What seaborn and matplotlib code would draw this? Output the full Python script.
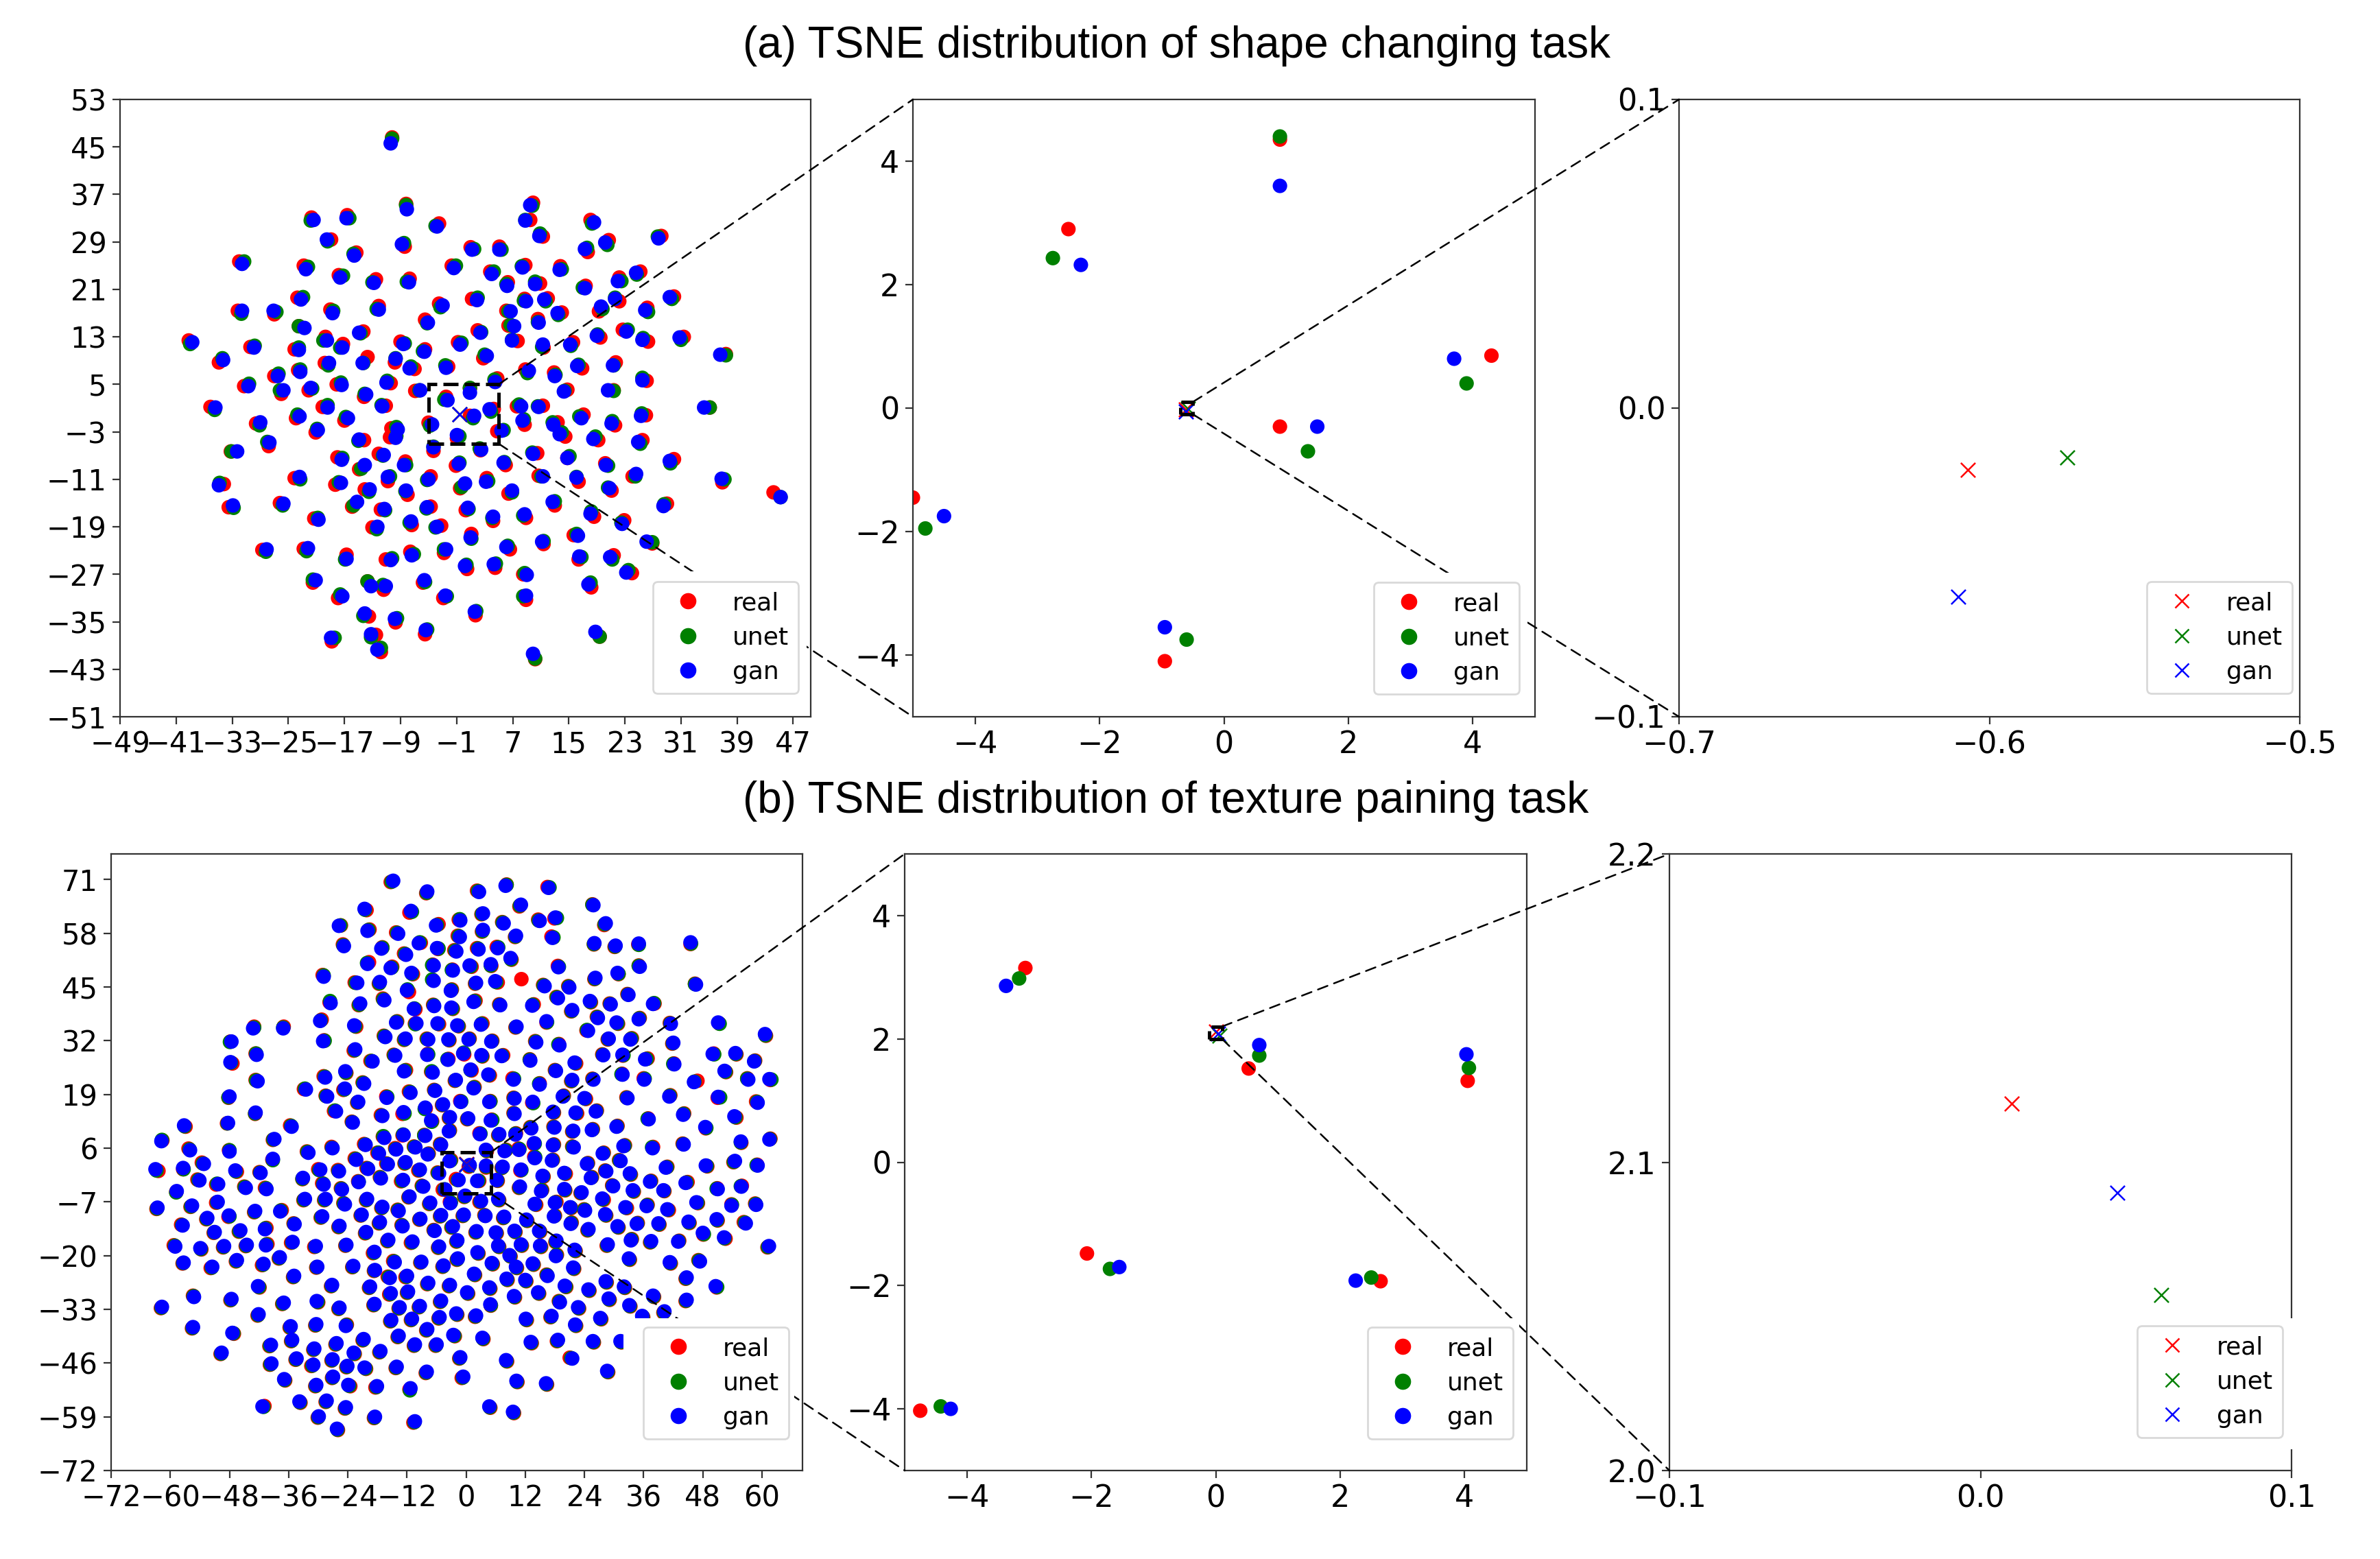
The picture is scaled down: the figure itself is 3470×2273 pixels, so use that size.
import matplotlib
matplotlib.use('Agg')
import matplotlib.pyplot as plt
import seaborn as sns
import pandas as pd
from matplotlib.patches import ConnectionPatch, Rectangle

# shape task, points shown in the middle panel
a2_real_x = [0.9, -2.5, 4.3, 0.9, -5.0, -0.95]
a2_real_y = [4.35, 2.9, 0.85, -0.3, -1.45, -4.1]
a2_unet_x = [0.9, -2.75, 3.9, 1.35, -4.8, -0.6]
a2_unet_y = [4.4, 2.43, 0.4, -0.7, -1.95, -3.75]
a2_gan_x = [0.9, -2.3, 3.7, 1.5, -4.5, -0.95]
a2_gan_y = [3.6, 2.32, 0.8, -0.3, -1.75, -3.55]

# texture task, points shown in the middle panel
b2_real_x = [-3.06, 4.05, 0.53, -2.07, 2.65, -4.75]
b2_real_y = [3.15, 1.32, 1.52, -1.48, -1.93, -4.03]
b2_unet_x = [-3.16, 4.07, 0.7, -1.7, 2.5, -4.42]
b2_unet_y = [2.98, 1.53, 1.73, -1.73, -1.87, -3.96]
b2_gan_x = [-3.37, 4.03, 0.7, -1.55, 2.25, -4.26]
b2_gan_y = [2.86, 1.75, 1.9, -1.7, -1.92, -4.0]

# crosses, the only marks of the right panels
a_cross_x = [-0.607, -0.575, -0.61]
a_cross_y = [-0.02, -0.016, -0.061]
b_cross_x = [0.01, 0.058, 0.044]
b_cross_y = [2.119, 2.057, 2.09]

# shape task, the rest of the left panel
a1_gan_x = [-10.4,-8.1,9.5,-21.4,-16.7,18.6,8.8,-3.8,10.8,-19.5,27.8,-8.8,20.2,1.2,5.1,17.3,-15.6,-31.6,-22.5,-1.4,8.4,13.7,4.0,24.6,-17.6,-7.8,-12.8,22.0,6.2,10.2,17.3,29.4,-23.2,1.9,21.6,8.9,11.5,-3.0,-12.1,-31.6,-27.1,-18.7,19.6,6.7,25.9,13.4,-5.1,10.7,-22.7,7.2,-14.9,2.4,23.2,6.9,19.0,30.8,-38.7,-19.5,25.5,-8.6,-0.5,11.3,15.2,-17.3,-29.9,-23.5,-5.6,3.3,-34.3,36.6,-14.4,-9.7,-19.2,21.3,16.2,-7.7,-2.5,9.3,-23.3,-26.5,13.0,25.5,-30.7,-11.0,-17.4,4.5,-21.8,14.3,-6.2,20.6,-25.7,-13.9,-35.4,-19.4,-11.6,8.2,10.7,34.3,-23.4,-16.5,16.8,25.3,-29.0,8.4,12.8,21.1,-9.4,-20.8,5.4,13.7,-9.7,18.5,-14.9,-27.7,24.9,-4.3,2.5,-32.3,9.9,-11.4,14.8,-17.4,5.7,29.4,-8.5,-14.1,20.3,-0.7,11.3,24.6,-23.4,-10.8,16.1,-5.0,3.2,-17.5,0.2,36.8,-34.9,-13.4,20.8,-8.2,6.9,12.7,45.2,-15.2,-25.7,28.5,-32.9,-5.2,0.6,-11.3,8.7,4.2,-20.7,18.1,22.6,-7.5,-3.8,-12.3,26.1,1.0,16.3,11.2,-28.1,-22.2,6.1,-2.5,-7.4,20.9,-16.7,16.5,-10.4,0.2,4.3,9.0,23.2,-5.6,-21.1,-13.2,-11.1,17.8,-17.3,-2.6,8.9,1.6,-14.1,-9.8,-5.4,-13.2,18.8,-18.9,-12.3,9.9]
a1_gan_y = [45.6,34.5,35.2,32.7,33.0,32.3,32.6,31.6,30.0,29.4,29.6,28.6,28.9,27.7,27.7,27.8,26.7,25.3,24.4,24.6,24.7,24.3,23.6,23.8,23.0,22.2,22.1,22.4,21.6,21.9,21.2,19.7,19.3,19.2,19.4,19.0,19.3,18.3,17.6,17.4,17.4,17.0,18.1,17.3,17.5,17.0,15.4,15.4,14.5,14.8,13.7,13.7,13.9,12.4,13.2,12.9,12.1,12.4,12.5,11.8,11.7,11.7,11.7,11.2,11.2,10.8,10.5,9.8,9.1,10.0,8.6,9.3,8.6,8.2,8.1,7.7,7.8,7.3,7.1,6.4,6.4,5.7,4.7,5.3,4.9,5.4,4.4,3.8,4.0,4.0,4.0,3.3,1.1,1.1,1.3,1.3,1.2,1.1,-0.4,-0.7,-0.7,-0.3,-1.4,-1.1,-1.8,-1.6,-2.6,-2.7,-2.8,-3.4,-4.0,-4.2,-4.3,-4.8,-4.7,-5.6,-6.0,-6.3,-6.7,-6.9,-7.4,-7.7,-8.2,-7.9,-8.6,-8.6,-8.6,-8.4,-10.5,-10.1,-10.6,-10.6,-10.7,-11.0,-11.4,-11.6,-11.7,-10.9,-12.0,-12.7,-12.5,-12.9,-12.9,-14.8,-14.0,-14.8,-15.1,-15.5,-15.4,-15.7,-15.8,-16.0,-16.9,-17.3,-17.8,-16.8,-18.5,-18.1,-19.0,-19.0,-21.5,-20.8,-20.5,-21.5,-22.8,-22.6,-22.4,-22.8,-23.8,-24.1,-24.4,-24.0,-24.6,-25.6,-25.3,-27.1,-26.7,-28.0,-28.0,-29.0,-29.0,-28.7,-30.7,-30.6,-30.6,-33.3,-33.6,-34.5,-36.4,-37.1,-36.7,-37.7,-39.7,-40.4]
a1_real_x = [-10.2,-8.2,9.9,-21.7,-16.6,18.1,9.5,-3.5,11.3,-18.9,28.2,-8.4,20.7,1.0,5.1,17.7,-15.3,-32.0,-22.8,-1.7,8.8,13.8,3.8,25.2,-17.8,-7.7,-12.5,22.2,6.3,10.9,17.4,30.0,-23.7,1.2,22.2,8.7,12.0,-3.5,-12.1,-32.2,-27.0,-19.0,19.3,6.1,26.2,14.0,-5.5,10.6,-23.5,6.4,-14.3,2.0,22.7,7.7,19.5,31.4,-39.2,-19.7,26.3,-9.0,-0.8,11.4,15.6,-17.2,-30.4,-24.1,-5.5,2.8,-34.9,37.4,-13.7,-9.8,-19.8,21.7,16.9,-7.0,-2.2,8.8,-23.6,-27.0,12.9,26.1,-31.3,-10.4,-18.1,4.8,-22.1,14.8,-6.9,21.4,-26.0,-14.2,-36.1,-20.1,-11.1,7.6,11.3,35.1,-23.9,-17.0,17.1,26.0,-29.6,8.7,13.4,21.6,-10.3,-21.1,4.8,14.5,-10.5,19.2,-14.2,-27.8,25.5,-4.3,2.4,-33.2,10.5,-12.1,14.8,-18.0,6.0,30.0,-8.3,-14.9,20.2,-1.1,10.7,24.1,-24.1,-10.8,16.4,-4.7,3.3,-18.3,-0.5,36.9,-34.2,-14.1,21.1,-8.0,6.4,13.0,44.2,-15.9,-26.2,29.0,-33.5,-4.7,0.3,-11.8,8.9,4.2,-21.3,18.6,22.9,-7.4,-3.2,-13.0,26.9,1.1,15.7,11.4,-28.7,-22.8,6.6,-2.8,-7.6,21.4,-16.7,16.4,-11.1,0.5,4.5,8.5,24.0,-5.8,-21.5,-13.7,-11.4,18.2,-17.9,-2.9,8.9,1.7,-13.5,-9.7,-5.5,-12.5,19.4,-18.8,-11.8,10.2]
a1_real_y = [46.6,35.4,35.6,33.1,33.5,32.7,32.7,32.1,29.9,29.4,30.0,28.2,29.3,28.1,28.2,27.3,27.2,25.7,25.0,25.0,25.1,24.9,24.0,24.0,23.4,22.8,22.7,23.0,22.2,22.0,21.6,19.8,19.6,19.4,19.0,19.4,19.5,18.6,18.2,17.4,16.8,17.6,17.3,17.4,17.9,17.1,15.9,16.0,14.8,14.9,13.9,14.1,14.2,12.3,12.9,13.0,12.4,13.0,12.2,12.2,12.1,11.2,12.1,11.8,11.3,10.9,10.9,9.4,8.7,10.1,9.6,8.7,8.6,8.7,7.7,7.6,8.0,7.5,7.4,6.4,7.0,5.6,4.7,5.2,5.0,6.0,4.0,4.1,3.9,4.0,3.4,2.9,1.2,1.2,1.4,1.3,1.4,1.1,-0.7,-1.1,-0.1,-0.2,-1.6,-1.8,-1.4,-1.9,-2.4,-3.1,-2.9,-3.8,-3.9,-4.4,-4.4,-5.4,-4.4,-6.2,-6.1,-6.3,-6.6,-6.7,-7.4,-7.3,-8.6,-7.6,-8.0,-9.3,-8.3,-8.7,-10.4,-10.5,-10.8,-11.3,-11.4,-10.5,-10.8,-11.9,-12.5,-11.5,-11.8,-12.7,-12.9,-13.6,-13.4,-15.4,-13.2,-15.6,-15.0,-15.1,-15.7,-15.6,-16.2,-16.1,-17.5,-18.0,-17.6,-17.3,-17.9,-18.7,-18.8,-19.1,-21.8,-20.2,-20.4,-21.9,-22.9,-22.7,-22.8,-23.4,-23.2,-23.8,-23.7,-24.5,-24.5,-26.1,-25.9,-27.0,-26.8,-28.4,-28.4,-28.2,-29.6,-29.2,-31.0,-31.0,-31.3,-33.9,-34.1,-35.1,-37.1,-37.2,-37.5,-38.3,-40.1,-41.3]
a1_unet_x = [-10.2,-8.2,9.8,-21.8,-16.3,18.3,8.8,-4.0,10.9,-19.4,27.7,-8.5,20.5,1.5,5.4,17.6,-15.7,-31.3,-22.2,-1.1,8.3,14.0,4.3,24.7,-17.2,-8.1,-13.0,22.5,6.1,10.2,17.0,29.7,-22.9,2.0,21.6,8.6,11.7,-3.3,-12.4,-31.7,-26.7,-18.6,19.8,6.4,26.3,13.5,-5.2,10.6,-23.5,6.7,-14.7,2.5,23.4,6.9,19.1,31.0,-39.0,-20.0,25.6,-8.4,-0.3,11.2,15.3,-17.6,-29.8,-23.5,-5.8,3.0,-34.4,37.4,-14.3,-9.7,-19.3,21.4,16.4,-7.5,-2.6,9.1,-23.3,-26.4,13.1,25.5,-30.6,-10.9,-17.5,4.4,-21.6,14.4,-6.3,21.4,-26.2,-14.1,-35.5,-19.4,-11.7,7.9,10.6,35.1,-23.7,-16.8,16.5,25.4,-29.1,8.6,12.7,21.2,-9.6,-20.9,5.7,14.0,-9.6,18.8,-15.0,-28.0,25.2,-4.3,2.3,-33.1,9.8,-11.5,15.1,-17.3,5.8,29.5,-8.2,-14.6,20.6,-0.6,11.1,24.5,-23.3,-10.5,16.1,-5.2,3.5,-17.8,-0.3,37.2,-34.8,-13.5,20.6,-8.3,6.9,13.0,45.2,-15.7,-25.8,28.6,-32.8,-5.3,0.7,-11.2,8.5,4.1,-20.8,18.2,22.5,-7.7,-4.0,-12.4,26.9,1.1,16.1,11.4,-28.2,-22.4,6.3,-2.8,-7.1,21.2,-16.9,16.8,-10.2,0.4,4.6,8.7,23.5,-5.5,-21.5,-13.7,-11.5,18.1,-17.6,-2.4,8.5,1.8,-14.3,-9.5,-5.2,-13.2,19.4,-18.4,-11.8,10.2]
a1_unet_y = [46.4,35.2,35.1,32.6,33.0,32.1,32.7,31.7,30.4,29.1,29.9,28.8,28.5,27.8,27.7,28.0,27.0,25.7,24.8,25.0,24.9,24.4,24.0,23.5,23.3,22.3,22.2,22.4,21.9,22.3,21.3,19.4,19.7,19.6,19.6,19.1,19.0,18.0,17.7,16.9,17.2,17.4,17.7,17.3,17.2,16.7,15.3,15.5,14.8,15.0,13.6,13.8,14.2,12.5,13.4,12.5,11.8,12.4,12.8,11.9,12.0,11.3,11.5,11.2,11.5,11.2,10.6,10.0,9.4,9.9,8.6,9.4,8.2,8.2,8.3,8.0,8.2,6.9,7.5,6.8,6.6,6.1,5.1,5.6,5.3,5.8,4.3,3.9,4.0,3.9,4.0,3.4,0.7,1.5,1.5,1.6,1.3,1.1,-0.1,-0.5,-0.4,0.1,-1.9,-0.9,-1.4,-1.2,-2.2,-2.5,-2.7,-3.1,-3.7,-3.8,-4.5,-4.7,-5.0,-5.5,-5.8,-6.3,-6.5,-7.0,-7.1,-7.4,-8.1,-8.3,-8.6,-9.2,-8.7,-8.2,-10.5,-10.5,-11.0,-10.5,-10.6,-11.1,-11.3,-11.5,-12.3,-11.0,-11.6,-13.1,-12.4,-13.0,-13.2,-14.7,-14.0,-15.4,-15.4,-15.2,-15.8,-15.9,-16.0,-16.2,-17.1,-17.5,-17.5,-16.4,-18.3,-18.3,-19.1,-19.4,-21.6,-21.0,-20.2,-21.4,-23.2,-23.1,-22.2,-22.8,-23.6,-24.5,-24.5,-24.1,-24.3,-25.4,-25.2,-26.8,-26.3,-28.3,-27.9,-28.2,-28.8,-28.4,-30.4,-30.7,-30.7,-33.2,-34.0,-34.4,-36.3,-37.6,-37.5,-37.7,-39.4,-41.2]

# texture task, the rest of the left panel
b1_gan_x = [-14.8,-20.6,-11.2,-25.8,-20.0,-13.8,-24.8,-17.2,-12.2,-20.0,-15.3,-28.9,-22.1,-17.5,-11.1,-12.0,-27.5,-21.5,-16.6,-29.6,-14.2,-43.2,-37.1,-22.7,-16.4,-47.6,-29.0,-12.3,-42.5,-22.5,-47.8,-14.4,-19.0,-12.6,-24.5,-42.3,-28.6,-20.7,-32.5,-24.6,-48.0,-28.2,-21.9,-16.1,-11.3,-42.7,-26.4,-17.0,-12.7,-48.3,-23.0,-35.4,-57.2,-16.6,-12.7,-38.9,-61.8,-20.4,-56.0,-48.0,-32.0,-27.1,-14.2,-17.7,-22.3,-39.2,-63.0,-57.4,-53.2,-29.6,-25.8,-15.9,-12.3,-19.9,-54.1,-50.3,-46.8,-41.7,-33.1,-28.9,-17.3,-21.8,-12.8,-44.7,-40.5,-25.2,-58.7,
-7.9,2.6,8.0,16.7,11.1,25.8,3.4,-1.2,-6.1,7.6,14.9,18.1,28.3,3.4,-1.3,10.1,17.5,26.0,30.3,35.0,45.5,-9.6,-5.9,2.5,6.4,-2.0,18.7,9.0,0.7,5.0,-6.6,-2.7,35.2,30.7,26.2,-6.6,2.0,5.9,15.9,20.9,-3.1,46.6,18.6,25.1,32.9,37.9,-6.5,-3.0,1.5,6.9,13.4,29.3,21.5,-10.6,-10.1,-5.8,-1.8,3.0,10.2,16.3,26.7,30.5,35.0,41.5,51.1,60.6,24.7,-7.7,-3.6,0.5,5.1,14.2,18.9,28.9,33.3,42.0,-7.9,-3.7,-0.6,3.1,7.2,13.0,22.0,27.8,31.7,36.3,50.0,54.6,58.4,42.2,-6.8,0.9,4.5,18.2,52.4,9.6,-2.1,14.9,21.5,25.8,31.7,36.1,57.2,61.5,46.2,-6.3,1.5,-8.3,-4.7,-1.1,4.7,9.8,13.5,19.6,24.0,32.7,41.2,51.1,59.1,-3.3,0.4,5.0,9.8,17.6,22.2,26.3,37.0,44.0,54.4,48.5,-7.1,-3.5,-8.3,2.8,6.7,10.0,13.2,17.9,21.7,25.5,30.5,55.7,61.5,-10.3,-5.1,4.0,7.8,10.7,13.8,17.6,21.8,31.9,37.8,44.1,-7.8,7.4,13.9,17.4,27.7,31.3,24.5,40.5,48.6,54.5,59.1,-9.4,-5.5,6.2,11.1,15.5,19.9,25.3,28.4,33.2,37.3,44.5,-8.7,-0.2,10.9,15.2,19.9,23.4,29.8,33.8,40.0,51.0,55.8,
-62.6,-55.6,-50.4,-32.7,-28.5,-24.6,-20.1,-17.0,-13.7,-11.5,-7.3,-3.2,3.0,6.5,13.9,18.0,21.1,24.1,27.6,32.3,36.6,40.8,46.7,53.8,58.8,-52.5,-48.1,-42.8,-37.7,-29.2,-21.2,-5.1,-0.5,3.9,7.7,-9.3,12.2,17.8,28.2,-34.8,-25.7,-17.5,-12.9,-2.7,21.2,24.8,30.7,34.6,39.0,45.1,50.8,56.7,-57.5,-51.0,-45.8,-40.8,-20.3,-6.4,2.1,6.0,9.8,14.8,48.0,52.3,-15.8,-10.9,-1.8,18.3,33.4,37.5,43.0,61.4,-59.0,-53.9,-49.1,-44.5,-40.6,-35.2,-30.5,-24.3,-5.5,6.5,11.1,15.0,28.7,22.0,-18.6,2.3,8.8,18.2,-37.8,-1.7,33.0,47.4,41.3,-57.3,-51.5,-46.5,-41.1,-30.2,-22.9,-14.5,-9.1,5.2,13.5,-4.6,10.1,21.7,-18.5,-34.9,-12.0,1.6,-15.5,16.5,8.2,12.0,44.7,28.3,-7.7,-3.3,-27.2,-42.2,20.0,32.0,50.6,24.8,-19.5,-15.3,-11.8,4.7,0.2,14.6,-55.2,9.7,-47.6,37.9,-30.3,-5.1,44.7,28.9,-37.0,-18.6,19.0,4.9,33.1,22.7,-61.7,-25.7,-9.4,-13.5,-2.0,-42.1,2.0,40.2,17.3,35.7,-11.0,-5.4,12.1,27.2,-15.2,-24.4,-30.4,-35.6,22.1,-55.4,-7.9,-47.4,-2.6,-13.7,3.3,-20.8,-35.3,-26.3,18.6,13.1,25.7,-10.4,-6.0,-39.6,31.3,-30.8,-22.8,-17.4,-49.6,21.5,-1.2,8.1,-34.4,-27.1,-39.5,-31.0,-24.1,-20.6,-14.1,-8.0,28.6,-0.6,-27.0,-36.9,10.2,16.2,-30.4,-18.1,-23.9,-11.3,-33.8,-28.3,-41.3,-24.4,4.7,9.5,-29.9,-18.5,-10.4,-26.2]
b1_gan_y = [70.7,63.9,63.4,59.8,58.6,57.9,54.9,54.3,52.8,50.6,49.6,47.5,46.0,46.2,48.4,44.2,41.1,41.0,41.8,36.8,36.4,35.0,35.0,35.7,32.9,31.8,31.9,32.5,28.6,29.9,26.8,28.4,27.0,24.6,24.6,22.2,23.1,21.6,20.2,20.4,18.5,18.5,17.2,18.2,19.4,14.6,14.9,13.8,14.7,12.1,12.2,11.2,11.5,8.5,9.2,8.2,7.7,6.8,5.5,5.2,4.9,6.0,5.7,4.7,3.2,3.4,0.9,1.2,2.2,0.8,0.4,2.1,2.6,1.0,-1.8,-2.7,0.6,0.0,-1.2,-2.8,-1.3,-2.2,-1.7,-3.6,-3.9,-4.0,-4.4,
68.1,68.0,69.5,69.0,64.9,64.8,62.8,61.1,59.9,60.4,61.0,61.8,60.4,58.8,57.1,57.4,56.9,55.6,55.0,55.5,55.8,55.6,54.4,54.1,54.4,53.6,49.8,52.0,50.2,50.5,50.2,49.0,49.9,48.4,47.2,46.5,46.0,46.4,45.2,44.9,44.1,45.6,42.3,41.6,43.1,40.9,40.4,40.0,41.4,40.6,40.5,40.8,39.4,39.7,36.2,36.2,35.7,35.9,35.4,36.7,37.5,36.4,37.2,36.1,36.4,33.6,34.4,32.3,32.3,32.3,31.8,31.6,30.9,32.5,32.3,31.5,28.6,27.4,28.9,28.5,28.3,27.2,26.7,28.5,28.6,27.5,28.8,29.0,27.0,26.3,24.3,25.0,23.8,24.7,24.7,22.6,22.5,21.4,22.5,22.6,23.8,22.6,22.6,22.7,22.0,19.9,20.5,15.8,16.6,17.2,17.2,18.0,17.2,18.5,18.1,18.1,18.5,18.4,17.0,13.5,13.2,12.7,14.3,14.8,14.6,14.9,13.0,14.1,13.7,11.1,12.7,10.1,9.0,9.4,9.4,9.3,10.8,11.0,10.2,10.4,11.2,7.6,8.1,6.2,6.8,5.6,5.3,5.6,7.2,6.7,6.2,6.5,6.0,6.9,4.5,1.5,3.6,3.0,4.7,2.9,2.2,1.3,1.8,2.9,1.8,0.8,-0.1,-1.7,0.8,-0.7,0.0,-1.2,0.4,-0.1,-2.1,-2.4,-3.3,-5.5,-3.3,-4.4,-3.9,-4.7,-3.2,-4.2,-4.2,-3.9,-3.3,
-8.4,-7.9,-7.0,-6.3,-6.3,-7.6,-6.3,-8.2,-9.2,-5.7,-7.2,-7.3,-6.8,-6.3,-7.5,-7.2,-8.3,-9.1,-6.2,-8.3,-8.0,-8.8,-7.1,-7.9,-7.7,-10.9,-10.3,-9.2,-9.3,-10.5,-10.1,-10.2,-10.1,-10.4,-10.6,-11.1,-11.3,-10.5,-10.0,-12.4,-12.8,-11.9,-12.9,-12.9,-12.3,-13.6,-12.9,-12.3,-12.2,-11.8,-11.2,-12.2,-12.7,-14.3,-13.9,-13.6,-14.3,-14.0,-14.1,-14.4,-14.0,-14.0,-14.5,-15.6,-16.2,-16.6,-16.3,-16.4,-16.3,-16.5,-16.6,-17.7,-17.8,-18.2,-17.7,-17.4,-17.5,-16.7,-17.7,-17.4,-17.8,-17.6,-17.3,-17.6,-17.3,-18.6,-19.1,-19.2,-19.9,-20.1,-20.4,-20.7,-20.7,-21.4,-21.6,-21.7,-22.7,-21.1,-22.0,-22.7,-22.5,-21.6,-21.5,-21.8,-21.9,-22.4,-22.7,-22.9,-23.5,-24.9,-24.9,-24.4,-25.4,-24.9,-25.6,-25.9,-25.3,-26.2,-26.6,-27.1,-27.1,-27.4,-27.3,-27.5,-27.4,-28.2,-27.5,-29.1,-28.7,-27.7,-28.9,-28.9,-30.0,-29.8,-30.5,-29.7,-31.0,-30.9,-30.7,-30.4,-31.4,-31.7,-31.3,-31.8,-32.0,-32.5,-32.4,-32.6,-32.2,-32.5,-34.0,-34.2,-34.5,-33.5,-34.6,-34.6,-35.3,-34.9,-35.3,-35.1,-35.6,-37.0,-36.6,-37.1,-36.7,-37.3,-37.8,-38.7,-39.2,-39.4,-39.9,-40.2,-40.4,-41.2,-40.4,-40.9,-40.7,-41.5,-41.5,-41.6,-40.7,-42.5,-43.5,-43.1,-43.5,-44.9,-44.6,-45.3,-44.9,-45.1,-46.1,-46.4,-46.7,-47.1,-46.9,-48.1,-47.9,-49.3,-49.3,-49.9,-50.3,-50.9,-51.3,-51.6,-51.3,-52.1,-55.3,-55.1,-56.5,-56.7,-56.5,-57.8,-58.9,-59.0,-60.1,-61.9]
b1_real_x = [-15.3,-20.2,-11.5,-25.4,-19.6,-14.2,-25.0,-17.0,-12.6,-19.7,-15.0,-29.1,-22.6,-17.7,-10.8,-11.6,-27.7,-21.8,-16.9,-29.3,-14.0,-43.0,-37.0,-22.3,-16.7,-47.8,-28.8,-12.6,-42.7,-22.8,-47.4,-14.7,-19.4,-12.2,-24.3,-42.7,-28.9,-21.0,-32.9,-24.9,-48.2,-28.5,-22.1,-16.2,-11.6,-42.8,-26.8,-17.3,-12.9,-48.5,-23.2,-35.7,-56.9,-16.9,-12.9,-39.2,-61.6,-20.7,-56.3,-48.1,-32.3,-27.3,-14.4,-18.0,-22.6,-39.3,-62.4,-57.4,-53.6,-30.0,-26.0,-16.2,-12.5,-20.2,-54.5,-50.7,-46.5,-41.9,-33.2,-29.2,-17.5,-21.9,-13.2,-45.0,-40.8,-25.4,-58.8,
-8.1,2.2,8.2,16.5,10.8,25.6,3.1,-1.5,-5.6,7.3,14.6,17.9,28.0,3.2,-1.7,9.9,17.3,25.9,30.1,34.9,45.5,-9.2,-5.7,2.2,6.2,-2.4,18.6,9.2,1.1,5.1,-6.8,-2.8,35.0,30.9,26.0,-6.8,1.8,6.4,15.6,20.7,-2.9,46.4,18.3,25.3,32.7,38.2,-6.7,-2.7,1.9,6.7,13.7,29.1,21.3,-10.3,-10.4,-5.5,-1.5,3.3,10.0,16.3,26.5,30.8,35.2,41.3,51.3,60.8,24.4,-8.0,-3.4,0.7,5.3,14.0,18.8,28.7,33.6,41.8,-7.8,-3.6,-0.4,3.3,7.5,12.9,22.3,27.6,31.8,36.8,50.2,54.8,58.6,42.1,-7.1,1.1,4.8,18.0,52.7,9.4,-2.3,14.9,21.3,25.6,31.6,36.0,57.0,61.7,46.9,-6.5,1.7,-8.2,-4.9,-1.2,4.9,9.6,13.4,19.8,24.3,32.5,41.4,51.0,58.8,-3.5,0.2,5.2,9.6,17.8,22.5,26.5,36.9,44.2,54.8,48.6,-6.9,-3.3,-8.5,2.7,6.5,10.1,13.0,17.7,21.5,25.7,30.7,55.8,61.7,-10.6,-5.3,4.2,8.1,10.6,13.7,17.8,21.5,32.2,37.9,43.9,-7.6,7.2,13.8,17.6,27.9,31.0,24.7,40.8,48.9,54.2,59.0,-9.7,-5.8,6.4,11.0,15.7,20.2,25.5,28.2,33.4,37.5,44.9,-9.0,-0.4,10.7,15.4,20.1,23.2,29.6,34.0,40.2,50.9,55.9,
-62.8,-55.9,-50.7,-33.0,-28.8,-24.9,-20.3,-17.2,-13.9,-11.7,-7.5,-3.3,2.7,6.7,14.2,18.3,21.3,23.9,27.9,32.6,36.8,41.1,47.0,53.8,58.6,-52.7,-48.2,-43.0,-37.4,-29.5,-21.4,-5.3,-0.7,3.7,7.5,-9.5,12.4,18.0,28.4,-35.0,-25.9,-17.7,-13.1,-3.0,21.4,24.6,30.9,34.8,39.2,45.3,51.0,56.3,-57.8,-51.2,-46.1,-40.5,-20.5,-6.6,1.9,6.2,10.0,15.0,48.1,52.6,-16.0,-11.2,-2.0,18.1,33.6,37.3,43.2,61.1,-59.3,-53.7,-49.3,-44.7,-40.3,-35.5,-30.8,-24.5,-5.7,6.7,11.3,15.2,28.5,22.2,-18.9,2.5,9.0,18.4,-38.0,-1.9,33.2,47.1,41.5,-57.5,-51.8,-46.7,-41.4,-30.4,-23.1,-14.8,-9.3,5.4,13.7,-4.8,10.3,21.9,-18.7,-35.1,-12.3,1.8,-15.9,16.3,8.4,12.2,44.5,28.5,-7.9,-3.5,-27.4,-41.9,20.3,32.2,50.8,25.0,-19.7,-15.6,-12.0,4.9,0.4,14.8,-55.4,9.9,-47.8,38.1,-30.0,-5.3,44.5,29.1,-37.3,-18.8,18.8,5.0,33.3,22.9,-61.9,-25.9,-9.6,-13.7,-1.8,-42.3,1.8,40.0,17.1,35.9,-11.2,-5.6,12.3,27.4,-15.4,-24.2,-30.6,-35.8,22.3,-55.6,-8.1,-47.1,-2.3,-13.9,3.5,-21.0,-35.5,-26.5,18.4,13.3,25.9,-10.6,-6.2,-39.9,31.5,-31.0,-22.6,-17.6,-49.8,21.0,-1.4,8.3,-34.6,-27.3,-39.8,-31.4,-24.3,-20.3,-14.3,-8.2,28.8,-0.9,-27.2,-36.7,10.4,16.4,-30.6,-18.4,-23.5,-11.5,-33.6,-28.5,-40.9,-24.6,4.9,9.7,-30.1,-18.7,-10.7,-26.0]
b1_real_y = [70.4,63.6,63.0,59.9,58.9,58.2,55.3,54.6,53.1,51.0,49.9,47.9,46.1,45.8,48.1,43.8,41.3,40.6,42.2,37.1,36.7,35.4,35.4,35.4,33.2,31.8,32.1,32.2,28.9,29.6,26.5,28.6,27.1,24.9,24.2,22.5,23.4,21.9,20.3,20.1,18.2,18.7,17.0,18.5,19.7,14.3,15.0,14.0,14.3,12.0,12.4,11.5,11.2,8.8,9.1,8.0,7.9,7.0,5.9,5.5,5.2,6.3,6.0,4.9,3.5,3.2,0.5,0.9,2.5,0.9,0.7,2.3,2.3,1.2,-1.6,-2.8,0.3,0.2,-1.5,-2.5,-1.0,-2.0,-2.0,-3.3,-3.6,-3.7,-4.6,
67.7,68.3,69.8,69.2,64.5,65.0,62.6,61.3,60.2,60.7,61.3,61.6,60.0,58.4,57.4,57.1,57.2,55.3,54.7,55.3,55.4,55.7,54.2,54.4,54.7,53.9,50.1,51.6,49.9,50.1,50.4,49.2,50.2,48.1,46.9,46.7,45.8,46.1,45.5,45.2,44.4,45.8,42.6,41.3,43.3,41.0,40.7,39.7,41.7,40.8,40.8,41.0,39.1,39.6,36.1,36.0,35.5,36.2,35.2,36.4,37.8,36.1,37.5,36.3,36.2,33.2,34.5,32.5,32.1,32.5,32.0,31.9,31.2,32.3,32.6,31.3,28.8,27.6,28.7,28.2,28.5,27.5,26.5,28.7,28.4,27.7,28.9,28.7,27.2,26.5,24.5,24.8,23.6,24.9,24.4,22.9,22.3,21.7,22.2,22.8,24.0,22.9,22.9,22.5,22.3,20.1,20.8,15.6,16.4,17.4,17.4,18.2,17.0,18.7,17.9,18.3,18.8,18.2,17.3,13.3,13.0,12.9,14.5,14.6,14.4,15.1,13.2,14.4,13.4,10.8,12.5,10.3,9.2,9.6,9.1,9.6,11.1,11.2,10.0,10.6,11.4,7.3,8.3,6.4,7.0,5.3,5.6,5.9,7.0,6.9,6.4,6.7,6.3,7.1,4.7,1.2,3.9,3.2,4.9,3.1,2.4,1.5,1.6,2.6,2.0,0.6,0.1,-1.9,0.6,-0.9,-0.2,-1.0,0.6,-0.4,-1.9,-2.2,-3.1,-5.8,-3.6,-4.1,-4.2,-4.9,-3.0,-4.5,-4.4,-3.7,-3.1,
-8.7,-8.2,-7.2,-6.6,-6.6,-7.3,-6.6,-8.5,-8.9,-5.9,-7.5,-7.0,-7.0,-6.6,-7.7,-7.0,-8.5,-8.8,-6.5,-8.5,-7.7,-9.0,-7.3,-7.6,-7.4,-11.2,-10.6,-9.5,-9.0,-10.8,-10.3,-10.5,-10.4,-10.2,-10.9,-11.3,-11.6,-10.3,-10.3,-12.2,-13.1,-12.2,-12.6,-13.2,-12.0,-13.9,-13.2,-12.1,-12.5,-12.1,-11.5,-11.9,-12.5,-14.5,-14.2,-13.3,-14.6,-13.8,-14.4,-14.6,-14.3,-14.2,-14.9,-15.9,-16.5,-16.9,-16.6,-16.7,-16.0,-16.8,-16.4,-18.0,-17.5,-18.5,-18.0,-17.7,-17.2,-16.9,-17.9,-17.6,-18.1,-17.9,-17.6,-17.9,-17.6,-18.9,-19.4,-19.5,-20.2,-19.8,-20.7,-21.0,-21.0,-21.1,-21.9,-21.9,-23.0,-21.4,-22.3,-22.9,-22.8,-21.3,-21.7,-22.1,-22.2,-22.7,-23.0,-23.2,-23.7,-25.2,-25.2,-24.7,-25.1,-24.6,-25.9,-26.2,-25.6,-26.5,-26.9,-27.4,-27.4,-27.7,-27.6,-27.8,-27.7,-28.5,-27.8,-29.4,-29.0,-28.0,-29.2,-29.2,-29.7,-30.1,-30.8,-30.0,-31.3,-31.2,-31.0,-30.7,-31.7,-32.0,-31.0,-32.1,-32.3,-32.8,-32.7,-32.9,-32.5,-32.8,-34.3,-34.5,-34.8,-33.8,-34.9,-34.9,-35.6,-35.2,-35.6,-35.4,-35.9,-36.7,-36.9,-37.4,-37.0,-37.6,-38.1,-38.9,-39.5,-39.7,-40.2,-40.5,-40.7,-41.5,-40.7,-41.2,-41.0,-41.8,-41.8,-41.9,-41.0,-42.8,-43.8,-43.4,-43.8,-44.7,-44.9,-45.6,-45.2,-45.4,-46.4,-46.7,-47.0,-47.4,-47.2,-48.4,-48.2,-49.6,-49.6,-50.2,-50.6,-51.2,-51.6,-51.9,-51.6,-52.4,-55.6,-55.4,-56.4,-57.0,-56.8,-58.1,-59.2,-59.3,-60.4,-62.2]
b1_unet_x = [-15.1,-20.5,-11.0,-25.5,-19.8,-14.0,-24.9,-17.0,-12.4,-20.1,-15.1,-28.9,-22.4,-17.6,-11.0,-11.9,-27.6,-21.7,-16.8,-29.5,-14.1,-43.0,-37.1,-22.5,-16.6,-47.9,-28.7,-12.5,-42.6,-22.6,-47.7,-14.6,-19.2,-12.4,-24.4,-42.6,-28.7,-20.9,-32.7,-24.7,-48.2,-28.4,-22.0,-16.0,-11.4,-42.8,-26.6,-17.1,-12.5,-48.4,-23.1,-35.5,-57.1,-16.8,-12.8,-39.1,-61.7,-20.5,-56.1,-48.0,-32.2,-27.2,-14.3,-17.8,-22.4,-39.2,-62.8,-57.3,-53.4,-29.8,-25.9,-16.0,-12.4,-20.0,-54.3,-50.5,-46.7,-41.8,-33.2,-29.0,-17.4,-21.8,-13.0,-44.9,-40.6,-25.3,-58.8,
-8.0,2.4,8.2,16.9,10.9,25.6,3.2,-1.3,-5.9,7.4,14.7,18.4,28.1,3.3,-1.5,10.0,17.7,25.9,30.2,35.0,45.6,-9.4,-5.6,2.4,6.5,-2.2,18.8,9.1,0.9,5.0,-6.9,-2.9,35.0,30.9,26.1,-6.9,1.9,6.1,15.7,20.8,-3.0,46.4,18.4,25.2,32.8,38.1,-6.6,-2.8,1.7,6.8,13.5,29.2,21.4,-10.5,-10.3,-5.7,-1.6,3.1,10.1,16.4,26.6,30.7,35.1,41.4,51.4,60.7,24.5,-7.9,-3.5,0.6,5.2,14.1,18.7,28.8,33.5,41.9,-7.7,-3.8,-0.5,3.2,7.3,12.9,22.1,27.7,31.9,36.6,50.3,54.7,58.5,42.0,-7.0,0.9,4.6,18.1,52.6,9.7,-2.2,14.8,21.4,25.7,31.5,36.2,57.0,61.9,46.3,-6.4,1.6,-8.4,-4.8,-1.0,4.9,9.7,13.6,19.7,24.1,32.6,41.3,51.5,59.0,-3.4,0.3,5.3,9.7,17.7,22.3,26.4,36.8,44.1,54.6,48.7,-7.0,-3.4,-8.5,2.9,6.6,10.0,13.1,17.8,21.6,25.6,30.6,55.7,61.6,-10.5,-5.2,4.1,8.0,10.8,13.9,17.7,21.6,32.1,37.7,44.0,-7.7,7.3,14.0,17.5,27.8,31.1,24.6,40.7,48.8,54.3,58.9,-9.5,-5.7,6.3,11.2,15.6,20.0,25.4,28.3,33.3,37.4,44.7,-8.9,-0.3,10.8,15.3,20.0,23.3,29.7,33.9,40.1,50.8,55.7,
-62.7,-55.8,-50.5,-32.9,-28.7,-24.8,-20.2,-17.1,-13.8,-11.6,-7.4,-3.1,2.9,6.6,14.0,18.1,21.2,24.0,27.7,32.4,36.7,40.9,46.9,53.9,58.7,-52.6,-48.0,-42.9,-37.6,-29.4,-21.3,-5.2,-0.6,3.8,7.6,-9.4,12.3,17.9,28.3,-34.9,-25.8,-17.6,-13.0,-2.9,21.3,24.7,30.8,34.7,39.1,45.2,50.9,56.5,-57.6,-51.1,-46.0,-40.7,-20.4,-6.5,2.0,6.1,9.9,14.9,48.2,52.4,-15.9,-11.0,-1.9,18.2,33.5,37.4,43.1,61.2,-59.1,-53.8,-49.2,-44.6,-40.5,-35.3,-30.6,-24.4,-5.6,6.6,11.2,15.1,28.6,22.1,-18.7,2.4,8.9,18.3,-37.9,-1.8,33.1,47.2,41.4,-57.4,-51.6,-46.6,-41.2,-30.3,-23.0,-14.6,-9.2,5.3,13.6,-4.7,10.2,21.8,-18.6,-35.0,-12.1,1.7,-15.7,16.4,8.3,12.1,44.6,28.4,-7.8,-3.4,-27.3,-42.0,20.2,32.1,50.9,24.9,-19.6,-15.4,-11.9,4.8,0.3,14.7,-55.3,9.8,-47.7,38.0,-30.1,-5.2,44.6,29.0,-37.2,-18.7,18.9,5.0,33.2,22.8,-61.8,-25.8,-9.5,-13.6,-1.9,-42.2,1.9,40.1,17.2,35.8,-11.1,-5.5,12.2,27.3,-15.3,-24.3,-30.5,-35.7,22.2,-55.5,-8.0,-47.2,-2.4,-13.8,3.4,-20.9,-35.4,-26.4,18.5,13.2,25.8,-10.5,-6.1,-39.8,31.4,-30.9,-22.7,-17.5,-49.7,21.3,-1.3,8.2,-34.5,-27.2,-39.7,-31.2,-24.2,-20.4,-14.2,-8.1,28.7,-0.7,-27.1,-36.8,10.3,16.3,-30.5,-18.2,-23.7,-11.4,-33.7,-28.4,-41.1,-24.5,4.8,9.6,-30.0,-18.6,-10.5,-26.1]
b1_unet_y = [70.5,63.7,63.2,59.9,58.8,58.1,55.1,54.5,53.0,50.8,49.7,47.8,46.0,45.9,48.2,44.4,41.6,40.7,42.0,36.9,36.6,35.2,35.2,35.5,33.1,31.7,32.0,32.3,28.9,29.7,26.7,28.5,27.1,24.8,24.3,22.4,23.3,21.8,20.4,20.2,18.3,18.6,17.1,18.4,19.6,14.4,15.1,13.9,14.4,12.0,12.3,11.4,11.3,8.9,9.3,8.1,8.0,6.9,5.7,5.5,5.1,6.1,5.8,4.9,3.4,3.1,0.6,0.9,2.3,0.7,0.5,2.2,2.4,1.1,-1.7,-2.6,0.4,0.1,-1.4,-2.6,-1.1,-2.1,-1.9,-3.4,-3.7,-3.8,-4.7,
67.8,68.2,69.7,69.1,64.7,64.9,62.7,61.4,60.0,60.6,61.1,61.7,60.2,58.5,57.3,57.2,57.0,55.4,54.8,55.2,55.5,55.8,54.3,54.3,54.6,53.8,49.9,51.7,50.0,50.2,50.3,49.1,50.1,48.2,47.0,46.8,45.9,46.2,45.4,45.1,44.3,45.7,42.5,41.4,43.2,41.1,40.6,39.8,41.6,40.7,40.7,40.9,39.2,39.8,36.0,36.1,35.6,36.1,35.3,36.5,37.7,36.2,37.4,36.2,36.1,33.3,34.6,32.4,32.2,32.4,31.9,31.8,31.1,32.4,32.5,31.4,28.7,27.5,29.1,28.3,28.4,27.4,26.6,28.6,28.5,27.6,28.7,28.8,27.1,26.4,24.6,24.9,23.7,24.8,24.5,22.8,22.4,21.6,22.3,22.7,23.9,22.8,22.8,22.6,22.1,20.0,20.7,15.5,16.5,17.3,17.3,18.1,16.9,18.6,18.0,18.2,18.7,18.3,17.2,13.4,13.1,12.8,14.4,14.7,14.5,15.0,13.1,14.3,13.5,10.9,12.4,10.2,9.1,9.5,9.2,9.5,11.0,11.1,10.1,10.5,11.3,7.4,8.2,6.3,6.9,5.4,5.5,5.8,7.1,6.8,6.3,6.6,6.2,7.0,4.6,1.3,3.8,3.1,4.8,3.0,2.3,1.4,1.7,2.7,1.9,0.7,0.0,-1.8,0.7,-0.8,-0.1,-1.1,0.5,-0.3,-2.0,-2.3,-3.2,-5.7,-3.5,-4.2,-4.1,-4.8,-3.1,-4.4,-4.3,-3.8,-3.2,
-8.6,-8.1,-7.1,-6.5,-6.5,-7.4,-6.5,-8.4,-9.0,-5.8,-7.4,-7.1,-6.9,-6.5,-7.6,-7.1,-8.4,-8.9,-6.4,-8.4,-7.8,-8.9,-7.2,-7.7,-7.5,-11.1,-10.5,-9.4,-9.1,-10.7,-10.2,-10.4,-10.3,-10.3,-10.8,-11.2,-11.5,-10.4,-10.2,-12.3,-13.0,-12.1,-12.7,-13.1,-12.1,-13.8,-13.1,-12.2,-12.4,-12.0,-11.4,-12.0,-12.6,-14.4,-14.1,-13.4,-14.5,-13.9,-14.3,-14.5,-14.2,-14.1,-14.8,-15.8,-16.4,-16.8,-16.5,-16.6,-16.1,-16.7,-16.5,-17.9,-17.6,-18.4,-17.9,-17.6,-17.3,-16.8,-17.8,-17.5,-18.0,-17.8,-17.5,-17.8,-17.5,-18.8,-19.3,-19.4,-20.1,-19.9,-20.6,-20.9,-20.9,-21.2,-21.8,-21.8,-22.9,-21.3,-22.2,-22.8,-22.7,-21.4,-21.6,-22.0,-22.1,-22.6,-22.9,-23.1,-23.6,-25.1,-25.1,-24.6,-25.2,-24.7,-25.8,-26.1,-25.5,-26.4,-26.8,-27.3,-27.3,-27.6,-27.5,-27.7,-27.6,-28.4,-27.7,-29.3,-28.9,-27.9,-29.1,-29.1,-29.8,-30.0,-30.7,-29.9,-31.2,-31.1,-30.9,-30.6,-31.6,-31.9,-31.1,-32.0,-32.2,-32.7,-32.6,-32.8,-32.4,-32.7,-34.2,-34.4,-34.7,-33.7,-34.8,-34.8,-35.5,-35.1,-35.5,-35.3,-35.8,-36.8,-36.8,-37.3,-36.9,-37.5,-38.0,-38.8,-39.4,-39.6,-40.1,-40.4,-40.6,-41.4,-40.6,-41.1,-40.9,-41.7,-41.7,-41.8,-40.9,-42.7,-43.7,-43.3,-43.7,-44.8,-44.8,-45.5,-45.1,-45.3,-46.3,-46.6,-46.9,-47.3,-47.1,-48.3,-48.1,-49.5,-49.5,-50.1,-50.5,-51.1,-51.5,-51.8,-51.5,-52.6,-55.5,-55.3,-56.6,-56.9,-56.7,-58.0,-59.1,-59.2,-60.3,-62.1]

# one real point with nothing drawn over it
b1_lone_x = [11.2]
b1_lone_y = [46.9]

names = ['real', 'unet', 'gan']
colors = {'real': 'red', 'unet': 'green', 'gan': 'blue'}

a1_ticks_x = list(range(-49, 48, 8))
a1_ticks_y = list(range(-51, 54, 8))
b1_ticks_x = list(range(-72, 61, 12))
b1_ticks_y = list(range(-72, 72, 13))

W, H = 3470, 2273
S = 58


def make_ax(l, r, t, b):
    return fig.add_axes([l / W, 1 - b / H, (r - l) / W, (b - t) / H])


def long_form(rx, ry, ux, uy, gx, gy):
    rows = []
    for n, xs, ys in [('real', rx, ry), ('unet', ux, uy), ('gan', gx, gy)]:
        rows += [(n, x, y) for x, y in zip(xs, ys)]
    return pd.DataFrame(rows, columns=['name', 'x', 'y'])


def scatter(ax, df, cx, cy):
    sns.scatterplot(data=df, x='x', y='y', hue='name', hue_order=names, palette=colors,
                    s=S, linewidth=0, ax=ax, legend=False)
    for n, x, y in zip(names, cx, cy):
        ax.scatter([x], [y], marker='x', c=colors[n], s=S, linewidths=0.9)
    ax.set_xlabel('')
    ax.set_ylabel('')


def add_legend(marker, left, bottom):
    ms = 7.6 if marker == 'o' else 7.2
    handles = [plt.Line2D([], [], ls='', marker=marker, color=colors[n], ms=ms, mew=0.9) for n in names]
    leg = fig.legend(handles, names, loc='lower left', bbox_to_anchor=(left / W, 1 - bottom / H),
                     fontsize=13, borderaxespad=0, borderpad=0.4, handletextpad=0.8, labelspacing=0.45,
                     frameon=True, fancybox=True, edgecolor='0.85', framealpha=1)
    leg.set_zorder(20)


sns.set_style('white')
plt.rcParams['xtick.bottom'] = True
plt.rcParams['ytick.left'] = True
plt.rcParams['axes.edgecolor'] = '#333333'
plt.rcParams['axes.linewidth'] = 0.8
plt.rcParams['text.color'] = 'black'
plt.rcParams['xtick.color'] = 'black'
plt.rcParams['ytick.color'] = 'black'
fig = plt.figure(figsize=(W / 200, H / 200), dpi=200)

a1 = make_ax(175, 1182, 145, 1045)
a2 = make_ax(1331, 2238, 145, 1045)
a3 = make_ax(2448, 3353, 145, 1045)
b1 = make_ax(162, 1170, 1245, 2144)
b2 = make_ax(1319, 2226, 1245, 2144)
b3 = make_ax(2434, 3341, 1245, 2144)

df_a2 = long_form(a2_real_x, a2_real_y, a2_unet_x, a2_unet_y, a2_gan_x, a2_gan_y)
df_b2 = long_form(b2_real_x, b2_real_y, b2_unet_x, b2_unet_y, b2_gan_x, b2_gan_y)
df_a1 = long_form(a1_real_x + a2_real_x, a1_real_y + a2_real_y, a1_unet_x + a2_unet_x,
                  a1_unet_y + a2_unet_y, a1_gan_x + a2_gan_x, a1_gan_y + a2_gan_y)
df_b1 = long_form(b1_real_x + b2_real_x + b1_lone_x, b1_real_y + b2_real_y + b1_lone_y, b1_unet_x + b2_unet_x,
                  b1_unet_y + b2_unet_y, b1_gan_x + b2_gan_x, b1_gan_y + b2_gan_y)

scatter(a1, df_a1, a_cross_x, a_cross_y)
scatter(a2, df_a2, a_cross_x, a_cross_y)
scatter(a3, df_a2, a_cross_x, a_cross_y)
scatter(b1, df_b1, b_cross_x, b_cross_y)
scatter(b2, df_b2, b_cross_x, b_cross_y)
scatter(b3, df_b2, b_cross_x, b_cross_y)

a1.set(xlim=(-49, 49.5), ylim=(-51, 53), xticks=a1_ticks_x, yticks=a1_ticks_y)
a2.set(xlim=(-5, 5), ylim=(-5, 5), xticks=[-4, -2, 0, 2, 4], yticks=[-4, -2, 0, 2, 4])
a3.set(xlim=(-0.7, -0.5), ylim=(-0.1, 0.1), xticks=[-0.7, -0.6, -0.5], yticks=[-0.1, 0.0, 0.1])
b1.set(xlim=(-72, 68.2), ylim=(-72, 77.2), xticks=b1_ticks_x, yticks=b1_ticks_y)
b2.set(xlim=(-5, 5), ylim=(-5, 5), xticks=[-4, -2, 0, 2, 4], yticks=[-4, -2, 0, 2, 4])
b3.set(xlim=(-0.1, 0.1), ylim=(2.0, 2.2), xticks=[-0.1, 0.0, 0.1], yticks=[2.0, 2.1, 2.2])
for ax in [a1, b1]:
    ax.tick_params(labelsize=15, length=4, width=0.8, pad=3, color='#333333')
for ax in [a2, a3, b2, b3]:
    ax.tick_params(labelsize=16, length=4, width=0.8, pad=3, color='#333333')

# dashed boxes and zoom lines
for big, small, x0, x1, y0, y1 in [(a1, a2, -5, 5, -5, 5), (a2, a3, -0.7, -0.5, -0.1, 0.1),
                                    (b1, b2, -5, 5, -5, 5), (b2, b3, -0.1, 0.1, 2.0, 2.2)]:
    big.add_patch(Rectangle((x0, y0), x1 - x0, y1 - y0, fill=False, ec='black', ls=(0, (4.4, 1.8)), lw=1.8, zorder=6))
    for yb, yt in [(y1, 1), (y0, 0)]:
        con = ConnectionPatch(xyA=(x1, yb), coordsA=big.transData, xyB=(0, yt), coordsB=small.transAxes,
                              ls=(0, (6, 4)), lw=0.9, color='black')
        fig.add_artist(con)

# the pasted legends blank what lies under them
for l, t, r, b in [(940, 833, 1176, 1030), (1990, 835, 2227, 1030), (909, 1922, 1158, 2113),
                   (1985, 1922, 2215, 2113), (3100, 1922, 3345, 2113)]:
    fig.add_artist(Rectangle((l / W, 1 - b / H), (r - l) / W, (b - t) / H, transform=fig.transFigure,
                             fc='white', ec='none', zorder=10))

add_legend('o', 952, 1011)
add_legend('o', 2003, 1012)
add_legend('x', 3130, 1011)
add_legend('o', 938, 2098)
add_legend('o', 1994, 2098)
add_legend('x', 3116, 2096)

fig.text(1083 / W, 1 - 67 / H, '(a) TSNE distribution of shape changing task', ha='left', va='center',
         fontsize=23, family='Liberation Sans')
fig.text(1083 / W, 1 - 1168 / H, '(b) TSNE distribution of texture paining task', ha='left', va='center',
         fontsize=23, family='Liberation Sans')

fig.savefig('out.png', dpi=200)
